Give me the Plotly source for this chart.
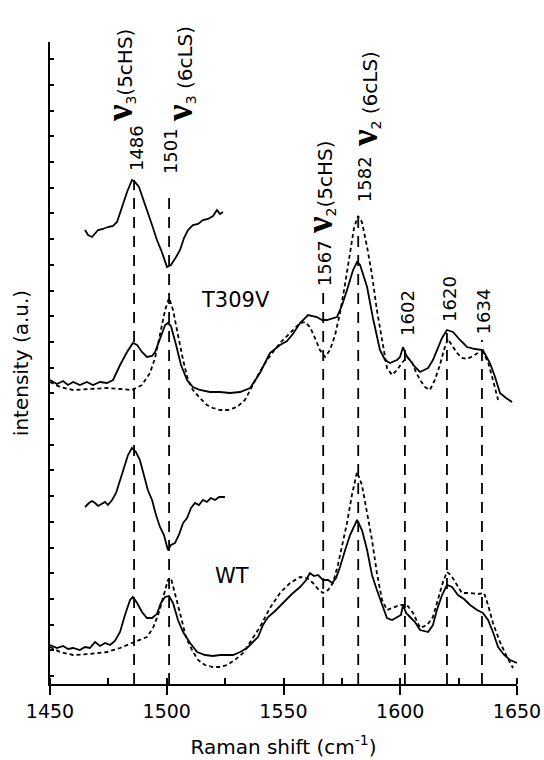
import plotly.graph_objects as go

# ---------------- data (wavenumber in cm^-1, intensity in a.u.) ----------------
t309v_solid_x = [1450.0, 1453.0, 1455.6, 1457.7, 1459.9, 1462.8, 1465.8, 1468.4, 1471.4, 1474.4, 1477.0,
                 1480.0, 1483.0, 1485.5, 1487.3, 1489.4, 1491.5, 1493.7, 1495.0, 1497.1, 1499.3, 1500.5,
                 1501.8, 1504.0, 1506.1, 1508.7, 1511.2, 1514.2, 1518.5, 1522.8, 1527.1, 1531.4, 1535.7,
                 1539.9, 1544.2, 1548.5, 1551.5, 1554.0, 1557.1, 1560.5, 1564.3, 1566.5, 1568.6, 1572.9,
                 1575.1, 1577.2, 1579.8, 1581.5, 1582.8, 1585.8, 1588.3, 1591.3, 1593.5, 1595.6, 1598.6,
                 1599.9, 1601.2, 1602.5, 1604.2, 1606.3, 1608.5, 1611.9, 1614.0, 1615.7, 1617.9, 1620.0,
                 1622.6, 1625.6, 1628.6, 1632.0, 1635.4, 1638.4, 1640.6, 1642.7, 1645.3, 1647.9]
t309v_solid_y = [3.04, 3.00, 3.03, 2.99, 3.02, 2.99, 3.02, 2.99, 3.02, 3.01, 3.04,
                 3.19, 3.32, 3.41, 3.39, 3.32, 3.27, 3.28, 3.32, 3.46, 3.59, 3.61,
                 3.58, 3.39, 3.19, 3.04, 2.97, 2.94, 2.92, 2.92, 2.91, 2.92, 2.96,
                 3.11, 3.31, 3.39, 3.43, 3.50, 3.61, 3.69, 3.67, 3.64, 3.64, 3.67,
                 3.79, 3.94, 4.14, 4.22, 4.19, 3.97, 3.66, 3.34, 3.24, 3.21, 3.24,
                 3.27, 3.37, 3.29, 3.24, 3.17, 3.12, 3.16, 3.24, 3.34, 3.46, 3.54,
                 3.52, 3.44, 3.37, 3.35, 3.34, 3.21, 3.07, 2.91, 2.86, 2.82]

t309v_dot_x = [1450.0, 1454.3, 1459.9, 1467.1, 1474.4, 1480.0, 1485.1, 1489.4, 1492.8, 1495.0, 1497.1,
               1499.3, 1501.0, 1502.7, 1504.8, 1507.0, 1509.1, 1511.2, 1514.2, 1517.2, 1519.8, 1522.8,
               1526.2, 1530.1, 1533.5, 1535.7, 1539.1, 1542.9, 1548.5, 1552.8, 1557.1, 1559.2, 1561.3,
               1563.5, 1565.6, 1567.8, 1569.9, 1572.1, 1574.2, 1576.3, 1578.5, 1580.2, 1581.9, 1583.6,
               1585.8, 1587.9, 1590.0, 1592.2, 1594.3, 1596.5, 1598.6, 1600.7, 1602.9, 1605.0, 1606.7,
               1608.5, 1610.6, 1612.7, 1614.8, 1617.0, 1618.7, 1620.4, 1622.2, 1624.3, 1626.4, 1628.6,
               1631.2, 1633.3, 1635.4, 1637.6, 1639.7, 1641.9]
t309v_dot_y = [3.02, 2.97, 2.94, 2.95, 2.96, 2.95, 2.94, 2.99, 3.11, 3.26, 3.51,
               3.74, 3.86, 3.74, 3.49, 3.24, 3.04, 2.94, 2.86, 2.79, 2.76, 2.74,
               2.74, 2.77, 2.84, 2.94, 3.09, 3.24, 3.41, 3.51, 3.61, 3.62, 3.57,
               3.46, 3.34, 3.27, 3.34, 3.49, 3.71, 3.99, 4.34, 4.56, 4.68, 4.62,
               4.37, 4.09, 3.74, 3.44, 3.16, 3.09, 3.14, 3.21, 3.27, 3.22, 3.12,
               3.04, 2.97, 2.94, 3.04, 3.19, 3.34, 3.45, 3.39, 3.31, 3.26, 3.25,
               3.28, 3.31, 3.32, 3.22, 3.04, 2.84]

t309v_diff_x = [1465.0, 1466.3, 1468.0, 1469.3, 1470.6, 1472.7, 1474.8, 1477.0, 1478.7, 1480.0, 1481.3,
                1483.0, 1485.1, 1486.4, 1488.1, 1489.8, 1491.5, 1493.7, 1495.8, 1497.9, 1500.1, 1501.8,
                1504.0, 1505.7, 1507.4, 1509.1, 1511.2, 1513.4, 1515.5, 1517.7, 1519.8, 1521.5, 1522.8,
                1524.1]
t309v_diff_y = [4.54, 4.49, 4.47, 4.51, 4.54, 4.55, 4.57, 4.58, 4.62, 4.71, 4.81,
                4.92, 5.04, 5.02, 4.97, 4.86, 4.74, 4.59, 4.44, 4.32, 4.17, 4.19,
                4.27, 4.34, 4.46, 4.54, 4.59, 4.60, 4.64, 4.65, 4.68, 4.74, 4.70,
                4.72]

wt_solid_x = [1450.0, 1453.0, 1455.6, 1457.7, 1459.9, 1462.8, 1465.0, 1467.1, 1469.3, 1471.4, 1473.6,
              1475.7, 1477.8, 1480.0, 1482.1, 1484.3, 1485.5, 1487.3, 1489.4, 1491.5, 1493.7, 1495.8,
              1497.5, 1499.3, 1501.0, 1502.7, 1504.8, 1507.0, 1510.0, 1513.0, 1516.4, 1519.8, 1522.8,
              1525.8, 1528.4, 1531.4, 1534.4, 1536.9, 1539.1, 1541.2, 1543.4, 1546.4, 1549.8, 1553.6,
              1557.1, 1559.7, 1561.3, 1563.1, 1564.8, 1566.9, 1569.1, 1570.8, 1572.5, 1574.2, 1576.4,
              1578.5, 1581.5, 1583.6, 1585.8, 1587.9, 1590.0, 1592.2, 1594.3, 1596.5, 1598.6, 1600.3,
              1601.2, 1602.5, 1604.2, 1606.3, 1608.5, 1611.9, 1614.0, 1615.7, 1617.9, 1620.0, 1622.2,
              1624.7, 1627.3, 1629.9, 1632.9, 1635.4, 1637.6, 1639.7, 1641.9, 1644.5, 1647.0, 1650.0]
wt_solid_y = [0.39, 0.36, 0.38, 0.35, 0.36, 0.34, 0.37, 0.36, 0.42, 0.38, 0.41,
              0.39, 0.43, 0.52, 0.69, 0.84, 0.87, 0.81, 0.72, 0.66, 0.66, 0.70,
              0.81, 0.87, 0.88, 0.81, 0.64, 0.52, 0.41, 0.32, 0.29, 0.28, 0.29,
              0.29, 0.29, 0.32, 0.36, 0.42, 0.47, 0.59, 0.67, 0.73, 0.81, 0.90,
              0.97, 1.04, 1.11, 1.08, 1.09, 1.04, 1.04, 1.01, 1.06, 1.17, 1.34,
              1.49, 1.64, 1.54, 1.34, 1.09, 0.94, 0.79, 0.66, 0.64, 0.67, 0.69,
              0.79, 0.71, 0.67, 0.62, 0.54, 0.52, 0.59, 0.74, 0.89, 0.99, 0.97,
              0.89, 0.85, 0.79, 0.74, 0.71, 0.64, 0.52, 0.37, 0.29, 0.24, 0.21]

wt_dot_x = [1450.0, 1454.3, 1459.9, 1467.1, 1474.4, 1480.0, 1485.1, 1488.5, 1491.5, 1494.1, 1496.3,
            1498.4, 1500.5, 1501.8, 1504.0, 1506.1, 1508.2, 1510.8, 1513.4, 1516.4, 1519.8, 1522.8,
            1525.8, 1529.2, 1532.7, 1535.7, 1539.9, 1544.2, 1548.5, 1552.8, 1557.1, 1560.1, 1562.6,
            1564.8, 1566.9, 1569.1, 1571.2, 1573.3, 1575.5, 1577.2, 1579.3, 1581.5, 1583.6, 1585.8,
            1587.9, 1590.0, 1592.2, 1594.3, 1596.9, 1599.9, 1602.9, 1605.5, 1608.5, 1611.5, 1614.0,
            1616.2, 1618.3, 1620.0, 1621.7, 1624.3, 1626.4, 1629.9, 1633.3, 1635.9, 1637.6, 1639.7,
            1642.7, 1645.7, 1648.3]
wt_dot_y = [0.37, 0.32, 0.29, 0.30, 0.32, 0.36, 0.41, 0.44, 0.47, 0.56, 0.69,
            0.86, 1.04, 1.06, 0.87, 0.67, 0.47, 0.34, 0.24, 0.19, 0.17, 0.17,
            0.19, 0.24, 0.31, 0.42, 0.57, 0.76, 0.91, 1.01, 1.07, 1.06, 1.01,
            0.95, 0.91, 0.94, 1.01, 1.19, 1.44, 1.61, 1.89, 2.12, 1.99, 1.72,
            1.44, 1.11, 0.84, 0.74, 0.76, 0.79, 0.79, 0.71, 0.56, 0.59, 0.67,
            0.84, 1.02, 1.12, 1.09, 0.99, 0.91, 0.91, 0.90, 0.91, 0.79, 0.61,
            0.42, 0.27, 0.16]

wt_diff_x = [1465.0, 1466.7, 1468.0, 1469.3, 1470.6, 1472.3, 1473.6, 1474.8, 1476.6, 1478.3, 1480.0,
             1481.7, 1483.4, 1485.1, 1486.8, 1488.5, 1490.2, 1491.9, 1493.7, 1495.4, 1497.1, 1498.8,
             1500.5, 1501.8, 1503.5, 1505.2, 1507.0, 1508.7, 1510.4, 1512.1, 1513.8, 1515.5, 1517.2,
             1518.9, 1520.7, 1522.4, 1524.9]
wt_diff_y = [1.77, 1.81, 1.83, 1.81, 1.78, 1.80, 1.82, 1.79, 1.84, 1.91, 2.04,
             2.16, 2.29, 2.36, 2.32, 2.24, 2.09, 1.94, 1.84, 1.69, 1.57, 1.49,
             1.34, 1.39, 1.41, 1.49, 1.61, 1.66, 1.76, 1.81, 1.79, 1.84, 1.82,
             1.86, 1.84, 1.87, 1.87]

# band positions marked with dashed lines
peak_pos = [1486, 1501, 1567, 1582, 1602, 1620, 1635]
peak_labels = ["1486", "1501", "1567", "1582", "1602", "1620", "1634"]
peak_top = [5.04, 4.94, 3.91, 4.71, 3.37, 3.51, 3.44]

mode_labels = ["ν|3|(5cHS)", "ν|3| (6cLS)", "ν|2|(5cHS)", "ν|2| (6cLS)"]
sample_labels = ["T309V", "WT"]

# ---------------- layout constants ----------------
FONT = "DejaVu Sans"
Y_MAX = 6.42

fig = go.Figure()

# dashed marker lines
for p, top in zip(peak_pos, peak_top):
    fig.add_trace(go.Scatter(x=[p, p], y=[0, top], mode="lines",
                             line=dict(color="black", width=1.8, dash="11px,8px"),
                             hoverinfo="skip", showlegend=False))

solid = dict(color="black", width=1.8)
dotted = dict(color="black", width=1.8, dash="4px,3px")
for xs, ys, ln in [(t309v_dot_x, t309v_dot_y, dotted), (t309v_solid_x, t309v_solid_y, solid),
                   (t309v_diff_x, t309v_diff_y, solid), (wt_dot_x, wt_dot_y, dotted),
                   (wt_solid_x, wt_solid_y, solid), (wt_diff_x, wt_diff_y, solid)]:
    fig.add_trace(go.Scatter(x=xs, y=ys, mode="lines", line=ln, showlegend=False))

annotations = []
# number labels (rotated)
num_label_y = [5.12, 5.09, 3.97, 4.81, 3.47, 3.61, 3.49]
num_label_dx = [2, 1, 1, 6, 2, 2, 1.5]
for p, lab, ly, dx in zip(peak_pos, peak_labels, num_label_y, num_label_dx):
    annotations.append(dict(x=p, y=ly, xref="x", yref="y", text=lab, textangle=-90,
                            showarrow=False, xanchor="center", yanchor="bottom", xshift=dx,
                            font=dict(family=FONT, size=18, color="black"), borderpad=0))

# mode labels
mode_x = [1479.6, 1505.2, 1565.2, 1584.5]
mode_y = [5.61, 5.61, 4.49, 5.36]
for lab, mx, my in zip(mode_labels, mode_x, mode_y):
    sym, sub, rest = lab.split("|")
    txt = ("<span style='font-family:Liberation Serif;font-weight:bold;font-size:37px'>" + sym +
           "</span><sub>" + sub + "</sub>" + rest)
    annotations.append(dict(x=mx, y=my, xref="x", yref="y", text=txt, textangle=-90,
                            showarrow=False, xanchor="center", yanchor="bottom",
                            font=dict(family=FONT, size=20, color="black"), borderpad=0))

# sample labels
for lab, sx, sy in zip(sample_labels, [1529.5, 1527.9], [3.84, 1.08]):
    annotations.append(dict(x=sx, y=sy, xref="x", yref="y", text=lab, showarrow=False,
                            font=dict(family=FONT, size=21, color="black")))

fig.update_layout(
    width=544, height=760,
    margin=dict(l=50, r=27, t=42, b=76, autoexpand=False),
    paper_bgcolor="white", plot_bgcolor="white",
    font=dict(family=FONT, size=19, color="black"),
    annotations=annotations,
    showlegend=False,
)
fig.update_xaxes(range=[1450, 1650], showgrid=False, zeroline=False, automargin=False,
                 showline=True, linecolor="black", linewidth=2,
                 ticks="outside", ticklen=9, tickwidth=2, tickcolor="black",
                 tickvals=[1450, 1500, 1550, 1600, 1650],
                 minor=dict(ticks="inside", ticklen=6, tickwidth=2, tickcolor="black", dtick=25,
                            tick0=1450, showgrid=False),
                 tickfont=dict(family=FONT, size=19),
                 title=dict(text="Raman shift (cm<sup>-1</sup>)", font=dict(family=FONT, size=20),
                            standoff=19))
fig.update_yaxes(range=[0, Y_MAX], showgrid=False, zeroline=False, automargin=False,
                 showline=True, linecolor="black", linewidth=2,
                 ticks="inside", ticklen=4, tickwidth=1.5, tickcolor="black",
                 tick0=0.08, dtick=0.257, showticklabels=False,
                 title=dict(text="intensity (a.u.)", font=dict(family=FONT, size=20), standoff=14))

fig.write_html("out.html")
